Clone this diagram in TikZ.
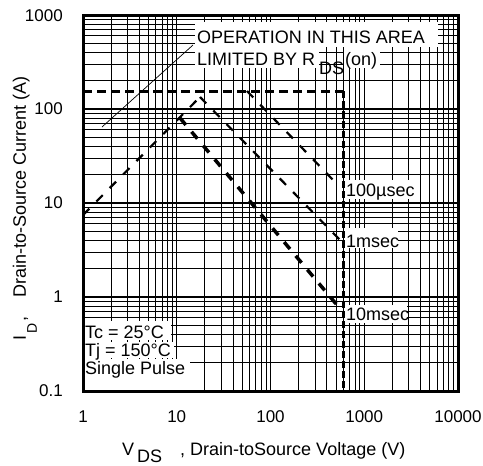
\documentclass[tikz,border=0pt]{standalone}
\usepackage{fontspec}
\setmainfont{Liberation Sans}
\begin{document}
\begin{tikzpicture}[x=1pt,y=-1pt,
  gridl/.style={line width=1pt,black},
  gridd/.style={line width=1.3pt,black},
  frame/.style={line width=3pt,black},
  majtick/.style={line width=2pt,black},
  tick/.style={font=\fontsize{17}{17}\selectfont,inner sep=0pt},
  lbl/.style={font=\fontsize{18}{18}\selectfont,inner sep=0pt,anchor=base west},
  sublbl/.style={font=\fontsize{14}{14}\selectfont,inner sep=0pt,anchor=base west},
  whitebox/.style={fill=white,draw=none},
  limh/.style={line width=3pt,dash pattern=on 9pt off 5pt},
  limv/.style={line width=3pt,dash pattern=on 7pt off 3pt},
  thinlim/.style={line width=2.2pt,dash pattern=on 9pt off 10pt},
  thicklim/.style={line width=3.5pt,dash pattern=on 9pt off 9pt},
  pointer/.style={line width=0.7pt,black}]
\useasboundingbox (0,0) rectangle (483,466);
% grid
\foreach \d in {0,1,2,3}{
  \foreach \k in {2,...,9}{
    \pgfmathsetmacro\gx{83+93.75*(\d+log10(\k))}
    \draw[gridl] (\gx,15) -- (\gx,391);
    \pgfmathsetmacro\gy{391-94*(\d+log10(\k))}
    \draw[gridl] (83,\gy) -- (458,\gy);
  }
}
\foreach \d in {1,2,3}{
  \draw[gridd] ({83+93.75*\d},15) -- ({83+93.75*\d},391);
  \draw[gridd] (83,{391-94*\d}) -- (458,{391-94*\d});
  \draw[majtick] (83,{391-94*\d}) -- (100,{391-94*\d});
}
% white label backgrounds
\fill[whitebox] (195,22) rectangle (438,47);
\fill[whitebox] (195,47) rectangle (319,68);
\fill[whitebox] (344,47) rectangle (380,68);
\fill[whitebox] (345,180) rectangle (418,199);
\fill[whitebox] (345,228) rectangle (398,248);
\fill[whitebox] (345,305) rectangle (407,323);
\fill[whitebox] (83,321) rectangle (171,340);
\fill[whitebox] (83,342) rectangle (174,358);
\fill[whitebox] (83,359) rectangle (190,391);
% frame
\draw[frame] (83,15) rectangle (458,391);
% curves
\coordinate (L0) at (83,91);
\coordinate (L1) at (343.5,91);
\coordinate (L2) at (343.5,391);
\coordinate (R0) at (83,215);
\coordinate (P1) at (200,97);
\coordinate (K1) at (180,118);
\coordinate (S0) at (247,91);
\coordinate (E1) at (340,240);
\coordinate (E2) at (337,305);
\coordinate (E3) at (335,182);
\coordinate (Q0) at (102,127);
\coordinate (Q1) at (193,45);
\draw[limh] (L0) -- (L1);
\draw[limv] (L1) -- (L2);
\draw[thinlim] (R0) -- (P1);
\draw[thinlim] (P1) -- (E1);
\draw[thinlim] (S0) -- (E3);
\draw[thicklim] (K1) -- (E2);
\draw[pointer] (Q0) -- (Q1);
% texts in plot
\node[lbl] (op) at (197,43) {OPERATION IN THIS AREA};
\node[lbl] (lim) at (197,65) {LIMITED BY R};
\node[lbl] (ds1) at (319,74) {DS};
\node[lbl] (on) at (345,65) {(on)};
\node[lbl] (t100) at (346,196) {100µsec};
\node[lbl] (t1m) at (346,247) {1msec};
\node[lbl] (t10m) at (346,320) {10msec};
\node[lbl] (tc) at (85,338) {Tc = 25°C};
\node[lbl] (tj) at (85,356) {Tj = 150°C};
\node[lbl] (sp) at (85,374) {Single Pulse};
% tick labels
\foreach \v/\t in {0/1,1/10,2/100,3/1000,4/10000}
  \node[tick] (xt\v) at ({83+93.75*\v},417) {\t};
\node[tick,anchor=east] (yt0) at (63,391) {0.1};
\node[tick,anchor=east] (yt1) at (63,297) {1};
\node[tick,anchor=east] (yt2) at (63,203) {10};
\node[tick,anchor=east] (yt3) at (63,109) {100};
\node[tick,anchor=east] (yt4) at (63,16) {1000};
% axis titles
\node[lbl] (xv) at (122,455) {V};
\node[lbl] (xds) at (137,462) {DS};
\node[lbl] (xrest) at (180,455) {, Drain-toSource Voltage (V)};
\node[lbl,rotate=90] (yi) at (26,341) {I};
\node[sublbl,rotate=90] (yd) at (37,334) {D};
\node[lbl,rotate=90] (yc) at (26,322) {,};
\node[lbl,rotate=90] (yrest) at (26,298) {Drain-to-Source Current (A)};
\end{tikzpicture}
\end{document}
